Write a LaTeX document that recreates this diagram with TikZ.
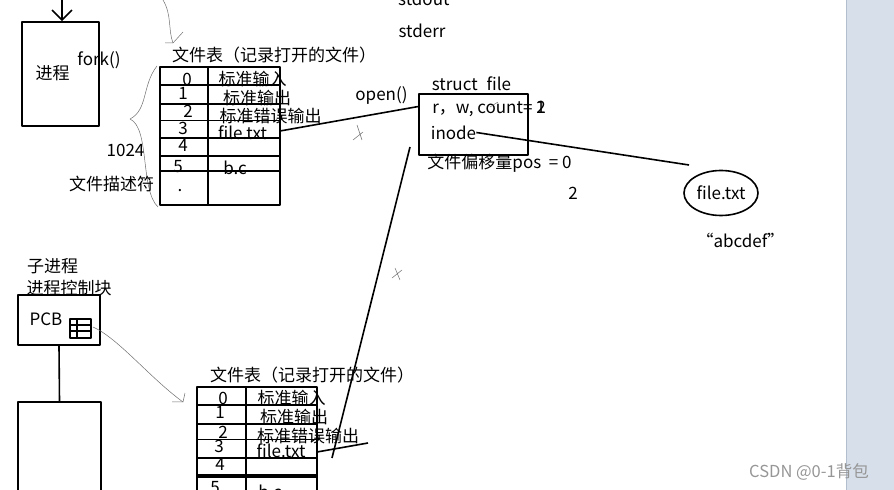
\documentclass[tikz,border=0pt]{standalone}
\usepackage{fontspec}
\setmainfont{Noto Sans CJK SC}
\usetikzlibrary{arrows.meta,shapes.geometric}
\definecolor{panelcol}{RGB}{214,223,234}
\definecolor{paneledge}{RGB}{178,190,205}
\definecolor{markcol}{RGB}{110,110,110}
\definecolor{wmcol}{RGB}{150,150,150}

\begin{document}
\begin{tikzpicture}[>={Straight Barb[length=10bp,width=20bp]},line join=bevel,
  lbl/.style={inner sep=0pt,font=\fontsize{17bp}{20bp}\selectfont},
  pen/.style={line width=1.6bp},
  scrib/.style={line width=0.5bp,draw=markcol},
  box/.style={draw,pen,inner sep=0pt}]
\pgfsetcolor{black}

\useasboundingbox (0bp,0bp) rectangle (894bp,490bp);
\fill[panelcol] (846bp,0bp) rectangle (894bp,490bp);
\draw[paneledge,line width=1bp] (846bp,0bp) -- (846bp,490bp);

% Node: proc
\node[box,minimum width=77bp,minimum height=104bp] (proc) at (60.5bp,416bp) {};
\node[lbl] (proclbl) at (52.5bp,416.5bp) {进程};
\node[lbl] (fork) at (99bp,429.5bp) {fork()};
\coordinate (parent) at (62bp,490bp);

% Edge: parent -> proc
\draw[pen,->] (parent) -- (parent |- proc.north);

% top brace
\draw[scrib] (163bp,490bp) .. controls (172bp,475bp) and (168bp,460bp) .. (173bp,447bp) coordinate (brtip);
\draw[scrib] (183bp,458bp) -- (brtip) -- (165bp,447bp);

% Table: ftab1
\node[lbl] (ftab1) at (274bp,435bp) {文件表（记录打开的文件）};
\draw[pen] (160bp,285bp) rectangle (280bp,423bp);
\draw[pen] (208bp,423bp) -- (208bp,285bp);
\draw[pen] (160bp,405bp) -- (281bp,405bp)
  (160bp,386bp) -- (281bp,386bp)
  (160bp,352bp) -- (281bp,352bp)
  (160bp,334bp) -- (280bp,334bp)
  (160bp,319bp) -- (280bp,319bp);
\draw[line width=0.8bp] (160bp,370bp) -- (280bp,370bp);
\node[lbl] (t1n0) at (187bp,410.5bp) {0};
\node[lbl] (t1e0) at (252.5bp,410.5bp) {标准输入};
\node[lbl] (t1n1) at (183bp,397bp) {1};
\node[lbl] (t1e1) at (257bp,391.5bp) {标准输出};
\node[lbl] (t1n2) at (188bp,378.5bp) {2};
\node[lbl] (t1e2) at (270.5bp,373.5bp) {标准错误输出};
\node[lbl] (t1n3) at (183bp,361.5bp) {3};
\node[lbl] (t1e3) at (242.5bp,357.5bp) {file.txt};
\node[lbl] (t1n4) at (183bp,345bp) {4};
\node[lbl] (t1n5) at (178bp,323bp) {5};
\node[lbl] (t1e5) at (235bp,322.5bp) {b.c};
\node[lbl] (t1dot) at (180bp,299bp) {.};

% left brace
\draw[scrib] (157bp,424bp) .. controls (142bp,405bp) and (148bp,380bp) .. (130bp,371bp)
  .. controls (150bp,362bp) and (140bp,300bp) .. (158bp,283bp);
\node[lbl] (fdmax) at (125.5bp,340bp) {1024};
\node[lbl] (fdname) at (111.5bp,306.5bp) {文件描述符};

% Node: streams
\node[lbl,anchor=base west] (stdout) at (398bp,484bp) {stdout};
\node[lbl] (stderr) at (422bp,459bp) {stderr};

% Node: sfile
\node[lbl] (open) at (381.5bp,394.5bp) {open()};
\node[lbl] (stitle) at (471.5bp,406bp) {struct\hspace{9bp}file};
\node[box,minimum width=109bp,minimum height=61bp] (sfile) at (473.5bp,365.5bp) {};
\node[lbl] (count) at (489bp,381.5bp) {r，w, count= \rlap{1}2};
\node[lbl] (inode) at (453.5bp,357.5bp) {inode};
\node[lbl] (pos) at (499.5bp,326.5bp) {文件偏移量pos\ \ = 0};
\node[lbl] (pos2) at (573bp,296.5bp) {2};
\draw[scrib] (490bp,383bp) -- (498bp,388bp);

% Edge: ftab1 -> sfile
\coordinate (t1out) at (280bp,359bp);
\draw[pen] (t1out) -- (sfile.162);
\draw[scrib] (357bp,365bp) -- (362bp,350bp) (353bp,350bp) -- (363bp,358bp);

% Node: ftxt
\node[lbl,draw,pen,ellipse,minimum width=74bp,minimum height=45bp] (ftxt) at (721bp,297bp) {file.txt};
\node[lbl] (content) at (740.5bp,250bp) {“abcdef"};

% Edge: sfile -> ftxt
\coordinate (fend) at (689bp,325bp);
\draw[pen] (inode.east) -- (fend);

% Node: pcb
\node[lbl] (child) at (52.5bp,223.5bp) {子进程};
\node[lbl] (pcbname) at (69bp,202bp) {进程控制块};
\node[box,minimum width=82bp,minimum height=50bp] (pcb) at (59bp,170bp) {};
\node[lbl] (pcblbl) at (46bp,170.5bp) {PCB};
\draw[line width=1.3bp] (70bp,152bp) rectangle (91bp,171bp)
  (77bp,171bp) -- (77bp,152bp)
  (70bp,165bp) -- (91bp,165bp)
  (70bp,159bp) -- (91bp,159bp);
\coordinate (icon) at (93bp,163bp);

% Node: cproc
\node[box,minimum width=83bp,minimum height=100bp] (cproc) at (59.5bp,38bp) {};

% Edge: pcb -> cproc
\draw[pen] (pcb.south) -- (cproc.north);

% Edge: icon -> ftab2
\coordinate (t2in) at (183bp,88bp);
\draw[scrib] (icon) .. controls (118bp,152bp) and (150bp,112bp) .. (t2in);
\draw[scrib] (185bp,97bp) -- (t2in) -- (172bp,88bp);

% Table: ftab2
\node[lbl] (ftab2) at (312bp,114.5bp) {文件表（记录打开的文件）};
\draw[pen] (197bp,-10bp) rectangle (317bp,103bp);
\draw[pen] (246bp,103bp) -- (246bp,-10bp);
\draw[pen] (197bp,85bp) -- (318bp,85bp)
  (197bp,66bp) -- (318bp,66bp)
  (197bp,32bp) -- (318bp,32bp)
  (197bp,15bp) -- (317bp,15bp)
  (197bp,13bp) -- (317bp,13bp);
\draw[line width=0.8bp] (197bp,51bp) -- (317bp,51bp);
\node[lbl] (t2n0) at (223bp,91.5bp) {0};
\node[lbl] (t2e0) at (291.5bp,91.5bp) {标准输入};
\node[lbl] (t2n1) at (220bp,77.5bp) {1};
\node[lbl] (t2e1) at (294bp,72.5bp) {标准输出};
\node[lbl] (t2n2) at (223bp,58bp) {2};
\node[lbl] (t2e2) at (308bp,53.5bp) {标准错误输出};
\node[lbl] (t2n3) at (219bp,43.5bp) {3};
\node[lbl] (t2e3) at (281bp,39.5bp) {file.txt};
\node[lbl] (t2n4) at (220bp,26bp) {4};
\node[lbl] (t2n5) at (215bp,2bp) {5};
\node[lbl] (t2e5) at (270bp,-2bp) {b.c};

% Edge: ftab2 -> sfile
\coordinate (t2out) at (317bp,38bp);
\coordinate (t2tail) at (368bp,47bp);
\draw[pen] (t2out) -- (t2tail);
\coordinate (sref) at (410bp,343bp);
\coordinate (t2hit) at (332bp,32bp);
\draw[pen] (sref) -- (t2hit);
\draw[scrib] (395bp,222bp) -- (400bp,210bp) (392bp,212bp) -- (402bp,220bp);

\node[inner sep=0pt,font=\fontsize{16.5bp}{18bp}\selectfont,text=wmcol] (wm) at (809bp,18.5bp) {CSDN @0-1背包};
%
\end{tikzpicture}
\end{document}
